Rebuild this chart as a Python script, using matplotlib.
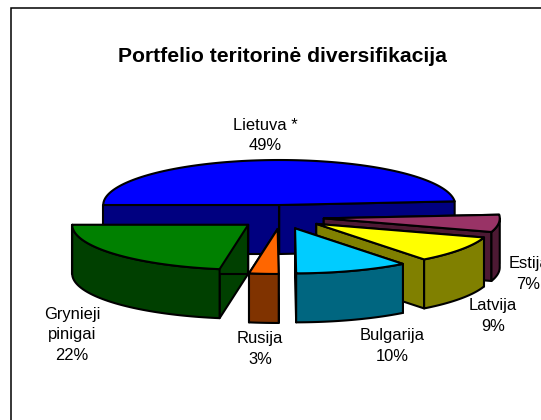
import numpy as np
import matplotlib
matplotlib.use("Agg")
import matplotlib.pyplot as plt
from matplotlib.patches import Polygon

# Data
title = "Portfelio teritorinė diversifikacija"
labels = ["Lietuva *\n49%", "Estija\n7%", "Latvija\n9%", "Bulgarija\n10%", "Rusija\n3%", "Grynieji\npinigai\n22%"]
shares = [48.7, 6.2, 9.6, 10.4, 2.7, 22.4]
top_colors = ["#0000FF", "#993366", "#FFFF00", "#00CCFF", "#FF6600", "#008000"]
side_colors = ["#000080", "#4D1933", "#808000", "#006680", "#803300", "#004000"]
label_pos = [(265, 135.5), (528.5, 274), (493, 316), (392, 346), (260, 349), (72, 335)]

# Layout (pixel scale of the axes)
W, H = 541, 420
cx, cy = 281, 217
rx, ry = 176, 45
ex, ey = 43, 12
depth = 49
start_angle = 180.0

fig = plt.figure(figsize=(W / 100, H / 100), dpi=100, facecolor="white")
ax = fig.add_axes([0, 0, 1, 1])
ax.set_xlim(0, W)
ax.set_ylim(H, 0)
ax.axis("off")
plt.rcParams["font.family"] = "Liberation Sans"

edge = dict(edgecolor="black", linewidth=1.5, joinstyle="round")


def pt(a, x0, y0, dy=0):
    r = np.radians(a)
    return x0 + rx * np.cos(r), y0 - ry * np.sin(r) + dy


angle = start_angle
for i, share in enumerate(shares):
    a0 = angle
    a1 = angle - share * 3.6
    angle = a1
    mid = np.radians((a0 + a1) / 2)
    x0 = cx + ex * np.cos(mid)
    y0 = cy - ey * np.sin(mid)
    z = i * 3 + 2
    # cut faces
    for a in (a0, a1):
        p = pt(a, x0, y0)
        q = pt(a, x0, y0, depth)
        ax.add_patch(Polygon([(x0, y0), p, q, (x0, y0 + depth)], closed=True,
                             facecolor=side_colors[i], zorder=z, **edge))
    # outer side, front part only
    if a1 < 0:
        arc = np.linspace(min(a0, 0.0), a1, 60)
        upper = [pt(a, x0, y0) for a in arc]
        lower = [pt(a, x0, y0, depth) for a in arc[::-1]]
        ax.add_patch(Polygon(upper + lower, closed=True,
                             facecolor=side_colors[i], zorder=z + 1, **edge))
    # top
    arc = np.linspace(a0, a1, 120)
    ax.add_patch(Polygon([(x0, y0)] + [pt(a, x0, y0) for a in arc], closed=True,
                         facecolor=top_colors[i], zorder=z + 2, **edge))

# Chart-area border: only left and top show
ax.plot([11, 11, W], [H, 8, 8], color="black", lw=1.1, zorder=1, solid_joinstyle="miter")

ax.text(282, 57, title, ha="center", va="center", fontsize=15.2, fontweight="bold",
        color="black", zorder=30)
for s, (x, y) in zip(labels, label_pos):
    ax.text(x, y, s, ha="center", va="center", fontsize=11.9, color="black",
            linespacing=1.5, zorder=30, clip_on=True)

fig.savefig("out.png", dpi=100, facecolor="white")
